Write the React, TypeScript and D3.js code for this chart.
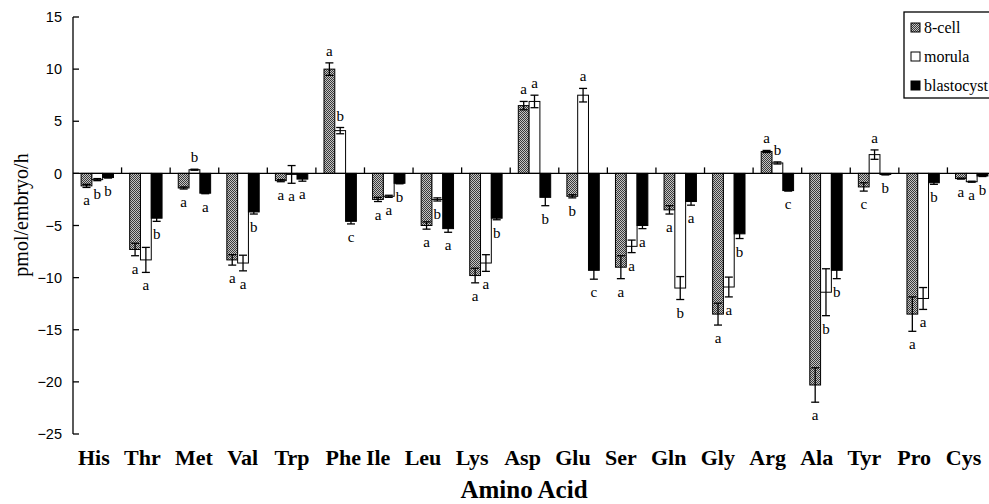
import React from 'react';
import * as d3 from 'd3';

// amino acids on the x axis
const categories = ['His', 'Thr', 'Met', 'Val', 'Trp', 'Phe', 'Ile', 'Leu', 'Lys', 'Asp',
    'Glu', 'Ser', 'Gln', 'Gly', 'Arg', 'Ala', 'Tyr', 'Pro', 'Cys'];

const seriesNames = ['8-cell', 'morula', 'blastocyst'];

// pmol/embryo/h, mean and SEM
const cell8 = [-1.2, -7.3, -1.4, -8.3, -0.7, 10.0, -2.5, -5.0, -9.8, 6.5,
    -2.2, -9.0, -3.5, -13.5, 2.1, -20.3, -1.3, -13.5, -0.5];
const cell8Err = [0.15, 0.6, 0.1, 0.5, 0.1, 0.6, 0.2, 0.35, 0.7, 0.4,
    0.15, 1.1, 0.4, 1.05, 0.1, 1.65, 0.4, 1.65, 0.05];

const morula = [-0.6, -8.3, 0.35, -8.6, -0.1, 4.1, -2.2, -2.5, -8.6, 6.9,
    7.5, -7.0, -11.0, -10.9, 1.0, -11.4, 1.8, -12.0, -0.8];
const morulaErr = [0.1, 1.2, 0.05, 0.75, 0.85, 0.3, 0.1, 0.15, 0.8, 0.6,
    0.65, 0.6, 1.1, 0.95, 0.1, 2.25, 0.45, 1.05, 0.05];

const blastocyst = [-0.4, -4.3, -1.9, -3.7, -0.55, -4.6, -0.95, -5.3, -4.3, -2.3,
    -9.3, -5.0, -2.7, -5.8, -1.65, -9.3, -0.1, -0.9, -0.25];
const blastocystErr = [0.05, 0.3, 0.05, 0.2, 0.2, 0.25, 0.05, 0.35, 0.15, 0.8,
    0.85, 0.3, 0.35, 0.45, 0.05, 0.8, 0.05, 0.15, 0.05];

// significance letters
const cell8Sig = ['a', 'a', 'a', 'a', 'a', 'a', 'a', 'a', 'a', 'a',
    'b', 'a', 'a', 'a', 'a', 'a', 'c', 'a', 'a'];
const morulaSig = ['b', 'a', 'b', 'a', 'a', 'b', 'a', 'b', 'a', 'a',
    'a', 'a', 'b', 'a', 'b', 'b', 'a', 'a', 'a'];
const blastocystSig = ['b', 'b', 'a', 'b', 'a', 'c', 'b', 'a', 'b', 'b',
    'c', 'a', 'a', 'b', 'c', 'b', 'b', 'b', 'b'];

const yTicks = [-25, -20, -15, -10, -5, 0, 5, 10, 15];

const width = 989;
const height = 504;
const serif = '"Liberation Serif", "Times New Roman", serif';
const sans = '"Liberation Sans", Arial, sans-serif';

const series = [
    { key: seriesNames[0], values: cell8, errs: cell8Err, sig: cell8Sig, fill: 'url(#dots)' },
    { key: seriesNames[1], values: morula, errs: morulaErr, sig: morulaSig, fill: '#fff' },
    { key: seriesNames[2], values: blastocyst, errs: blastocystErr, sig: blastocystSig, fill: '#000' }
];

// width of a bold 22px serif word, from Times bold advance widths
function measure(word) {
    const w = {
        H: .778, T: .667, M: .944, V: .722, P: .611, I: .389, L: .667, A: .722, G: .778,
        S: .556, C: .722, i: .278, s: .389, h: .556, r: .444, e: .444, t: .333, a: .5,
        l: .278, p: .556, u: .556, y: .5, n: .556, g: .5, o: .5
    };
    let total = 0;
    for (const ch of word) total += w[ch] || 0.5;
    return total * 22;
}

export default function App() {
    const x0 = d3.scaleBand().domain(categories).range([73, 996]);
    const x1 = d3.scaleBand().domain(seriesNames).range([0, x0.bandwidth()]).paddingOuter(0.75);
    const y = d3.scaleLinear().domain([-25, 15]).range([434, 17]);
    const fmt = d3.format('d');
    const bw = x1.bandwidth();
    const cap = 4;

    // the category names were typed as one text line under the axis
    let cursor = 78;
    const labelX = categories.map((c, i) => {
        if (i > 0) cursor += c === 'Ile' ? 5 : 14.3;
        const start = cursor;
        cursor += measure(c);
        return start;
    });

    return (
        <div style={{ position: 'absolute', left: 0, top: 0 }}>
            <svg width={width} height={height} style={{ display: 'block', background: '#fff' }}>
                <defs>
                    <pattern id="dots" width="2" height="2" patternUnits="userSpaceOnUse">
                        <rect width="2" height="2" fill="#c4c4c4" />
                        <rect width="1" height="1" fill="#3a3a3a" />
                        <rect x="1" y="1" width="1" height="1" fill="#3a3a3a" />
                    </pattern>
                </defs>

                {/* bars */}
                {series.map(s => (
                    <g key={s.key}>
                        {categories.map((c, i) => {
                            const v = s.values[i];
                            const bx = x0(c) + x1(s.key);
                            return (
                                <rect key={c} x={bx} y={y(Math.max(0, v))} width={bw}
                                    height={Math.abs(y(v) - y(0))}
                                    fill={s.fill} stroke="#000" strokeWidth={1} />
                            );
                        })}
                    </g>
                ))}

                {/* error bars */}
                {series.map(s => (
                    <g key={s.key} stroke="#000" strokeWidth={1.3}>
                        {categories.map((c, i) => {
                            const v = s.values[i];
                            const e = s.errs[i];
                            const cx = x0(c) + x1(s.key) + bw / 2;
                            return (
                                <g key={c}>
                                    <line x1={cx} x2={cx} y1={y(v + e)} y2={y(v - e)} />
                                    <line x1={cx - cap} x2={cx + cap} y1={y(v + e)} y2={y(v + e)} />
                                    <line x1={cx - cap} x2={cx + cap} y1={y(v - e)} y2={y(v - e)} />
                                </g>
                            );
                        })}
                    </g>
                ))}

                {/* significance letters */}
                {series.map(s => (
                    <g key={s.key} style={{ fontFamily: serif }} fontSize={15} textAnchor="middle" fill="#000">
                        {categories.map((c, i) => {
                            const v = s.values[i];
                            const e = s.errs[i];
                            const cx = x0(c) + x1(s.key) + bw / 2;
                            const ty = v > 0.2 ? y(v + e) - 7 : y(v - e) + 18;
                            return <text key={c} x={cx} y={ty}>{s.sig[i]}</text>;
                        })}
                    </g>
                ))}

                {/* zero line with inward ticks */}
                <g stroke="#000" strokeWidth={1.3}>
                    <line x1={73} x2={996} y1={y(0)} y2={y(0)} />
                    {categories.slice(1).map(c => (
                        <line key={c} x1={x0(c)} x2={x0(c)} y1={y(0)} y2={y(0) - 6} />
                    ))}
                </g>

                {/* y axis */}
                <g>
                    <line x1={73} x2={73} y1={y(15)} y2={y(-25)} stroke="#000" strokeWidth={1.3} />
                    {yTicks.map(t => (
                        <g key={t}>
                            <line x1={73} x2={79} y1={y(t)} y2={y(t)} stroke="#000" strokeWidth={1.3} />
                            <text x={62} y={y(t)} dy="0.36em" textAnchor="end"
                                style={{ fontFamily: sans }} fontSize={14.5} fill="#000">{fmt(t)}</text>
                        </g>
                    ))}
                </g>
                <text transform="translate(28,215) rotate(-90)" textAnchor="middle"
                    style={{ fontFamily: serif }} fontSize={20} fill="#000">pmol/embryo/h</text>

                {/* category names */}
                <g style={{ fontFamily: serif }} fontWeight="bold" fontSize={22} fill="#000">
                    {categories.map((c, i) => (
                        <text key={c} x={labelX[i]} y={465}>{c}</text>
                    ))}
                </g>
                <text x={524} y={498} textAnchor="middle" style={{ fontFamily: serif }}
                    fontWeight="bold" fontSize={25} fill="#000">Amino Acid</text>

                {/* legend */}
                <g>
                    <rect x={904} y={12} width={120} height={86} fill="#fff" stroke="#000" strokeWidth={1.3} />
                    {series.map((s, i) => (
                        <g key={s.key} transform={`translate(911,${28 + i * 29})`}>
                            <rect x={0} y={-5} width={9} height={9} fill={s.fill} stroke="#000" strokeWidth={1} />
                            <text x={13} y={5} style={{ fontFamily: serif }} fontSize={16} fill="#000">{s.key}</text>
                        </g>
                    ))}
                </g>
            </svg>
        </div>
    );
}
